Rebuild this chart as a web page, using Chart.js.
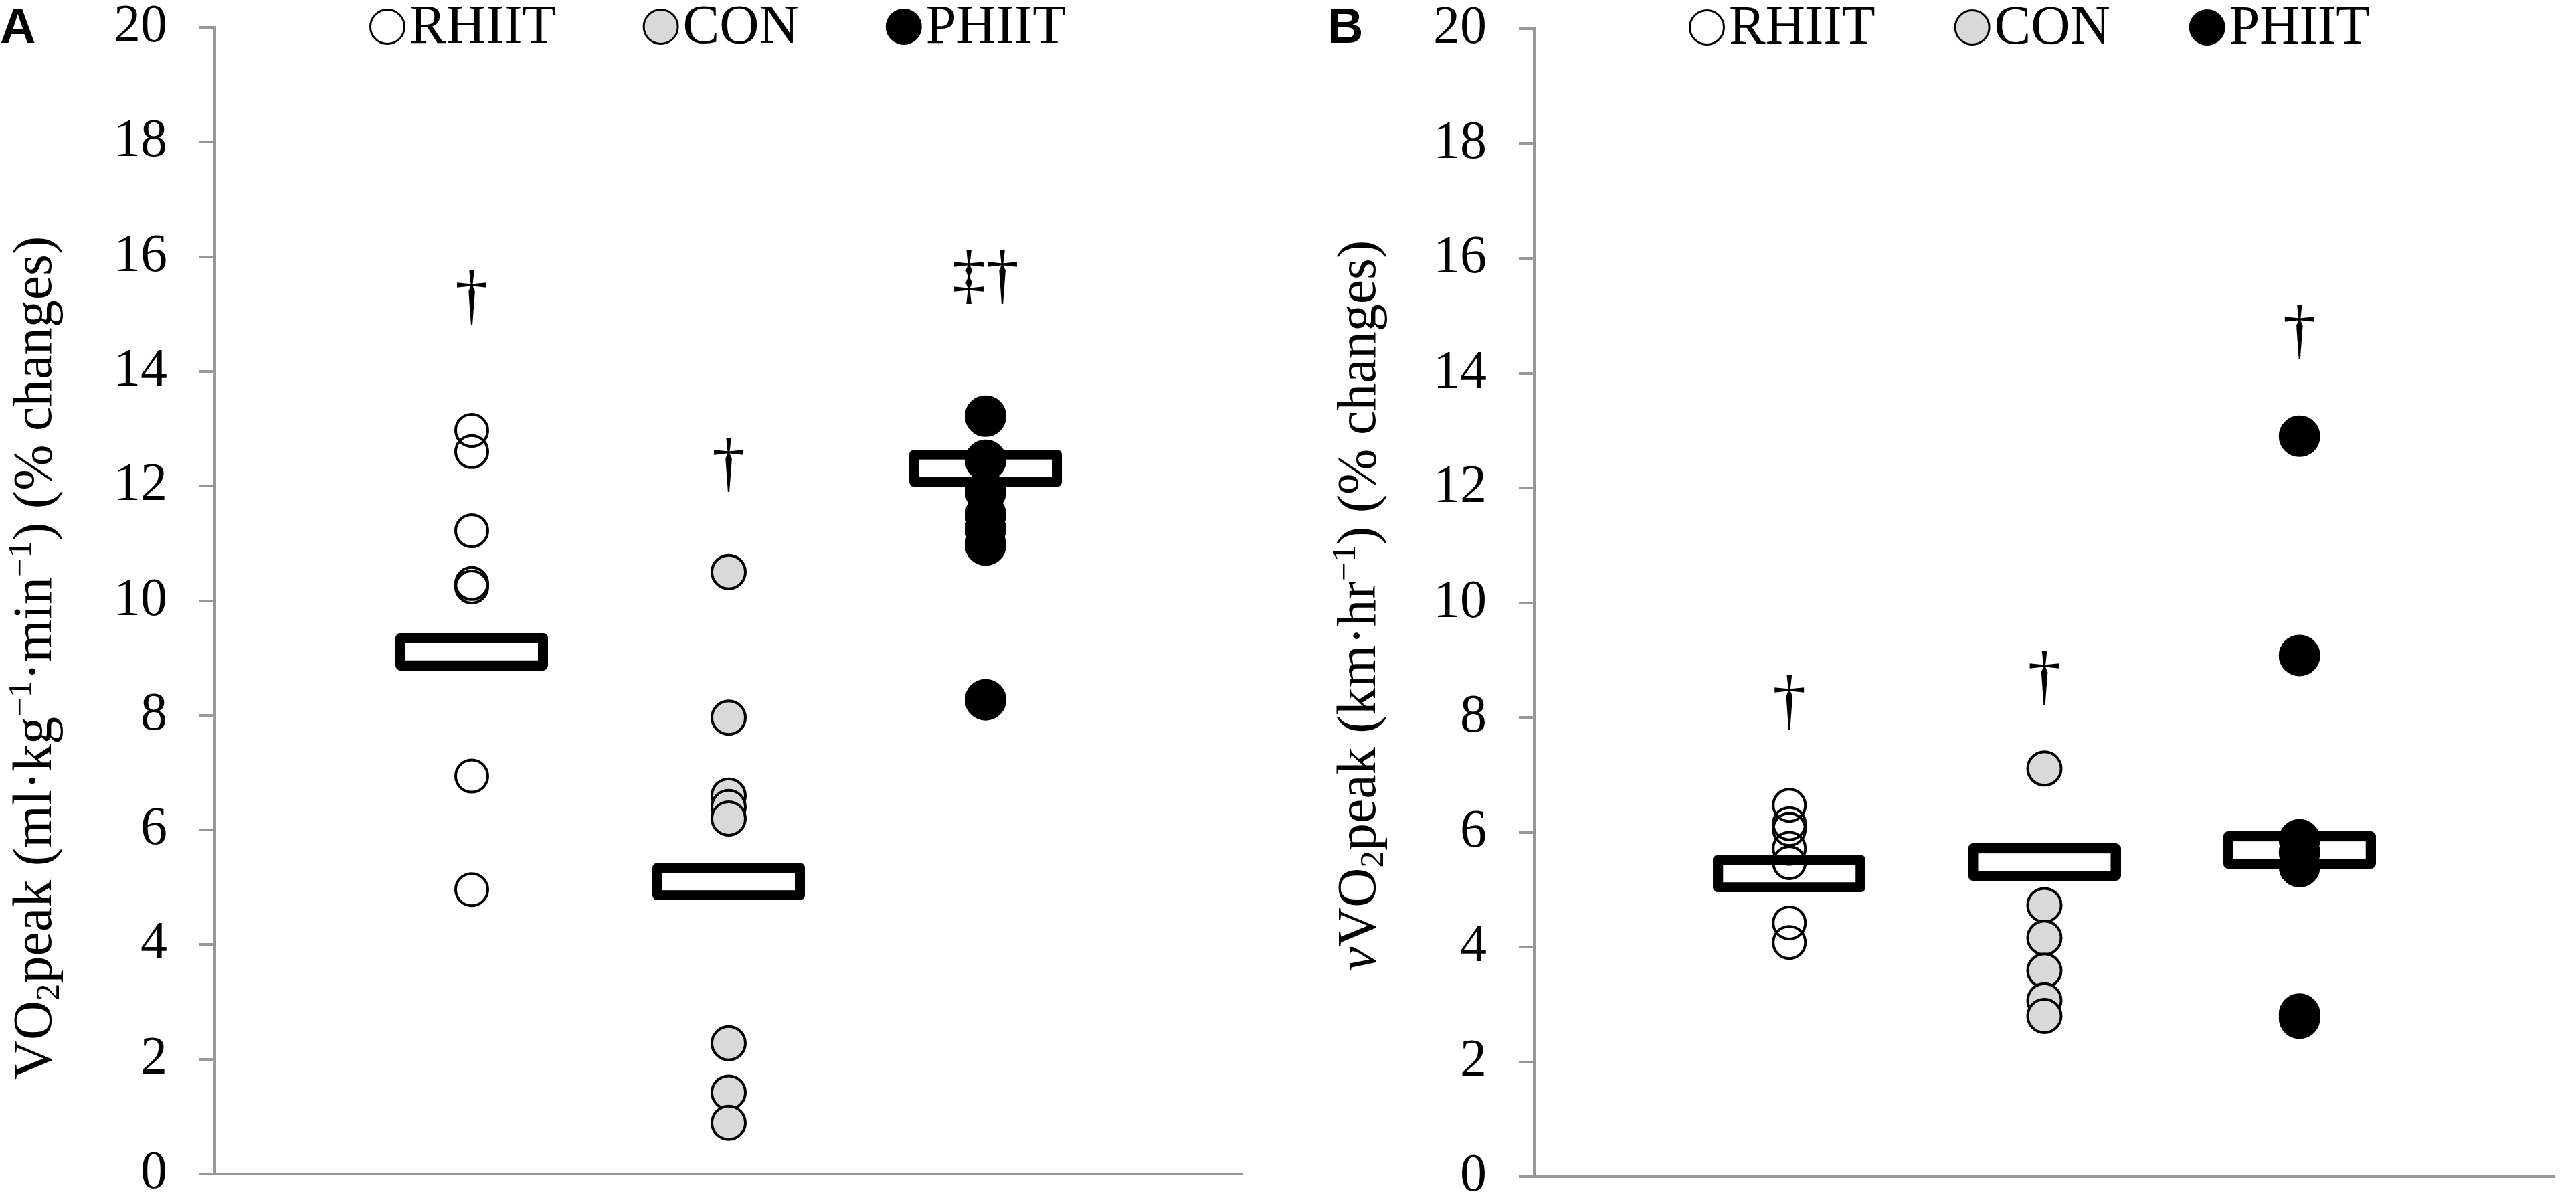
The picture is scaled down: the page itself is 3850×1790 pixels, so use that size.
<!DOCTYPE html>
<html>
<head>
<meta charset="utf-8">
<script src="https://cdn.jsdelivr.net/npm/chart.js@4.4.0/dist/chart.umd.min.js"></script>
<style>
  html, body { margin: 0; padding: 0; background: #fff; }
  body { width: 3850px; height: 1790px; position: relative; overflow: hidden; }
  .panel { position: absolute; top: 0; height: 1790px; }
  #panelA { left: 0; width: 1960px; }
  #panelB { left: 1960px; width: 1890px; }
  .tag { position: absolute; top: 2px; font: bold 74px "Liberation Sans", Arial, sans-serif; line-height: 74px; color: #000; }
</style>
</head>
<body>
<div id="panelA" class="panel"><canvas id="chartA"></canvas></div>
<div id="panelB" class="panel"><canvas id="chartB"></canvas></div>
<div class="tag" style="left:0px">A</div>
<div class="tag" style="left:1984px">B</div>
<script>
// groups on the x axis (linear 0..4, groups sit at 1, 2, 3)
const groups = ['RHIIT', 'CON', 'PHIIT'];
const groupX = [1, 2, 3];

// Panel A - VO2peak, individual % changes
const vo2Rhiit = [12.97, 12.6, 11.22, 10.3, 10.24, 6.94, 4.96];
const vo2Con = [10.5, 7.96, 6.6, 6.4, 6.2, 2.28, 1.42, 0.89];
const vo2Phiit = [13.22, 12.45, 11.9, 11.5, 11.25, 10.97, 8.27];
const vo2Means = [9.11, 5.1, 12.31];
const vo2Marks = ['\u2020', '\u2020', '\u2021\u2020'];
const vo2MarkY = [15.26, 12.34, 15.62];

// Panel B - vVO2peak, individual % changes
const vvoRhiit = [6.47, 6.15, 6.05, 5.72, 5.47, 4.42, 4.08];
const vvoCon = [7.11, 4.73, 4.16, 3.59, 3.07, 2.8];
const vvoPhiit = [12.9, 9.08, 5.87, 5.65, 5.4, 2.83, 2.76];
const vvoMeans = [5.28, 5.48, 5.69];
const vvoMarks = ['\u2020', '\u2020', '\u2020'];
const vvoMarkY = [8.24, 8.66, 14.7];

// y axis ticks
const yMin = 0;
const yMax = 20;
const yStep = 2;

const axisGray = '#989898';
const serif = '"Liberation Serif", "Times New Roman", serif';

const groupStyle = {
    RHIIT: { radius: 24, border: 4, fill: 'rgba(0,0,0,0)' },
    CON: { radius: 25, border: 4, fill: '#d9d9d9' },
    PHIIT: { radius: 30, border: 2, fill: '#000' }
};

// wide open rectangle used as the mean marker
function meanMarker() {
    const c = document.createElement('canvas');
    c.width = 228;
    c.height = 56;
    const g = c.getContext('2d');
    g.lineWidth = 15;
    g.lineJoin = 'round';
    g.fillStyle = '#fff';
    g.strokeStyle = '#000';
    g.fillRect(7.5, 7.5, 213, 41);
    g.strokeRect(7.5, 7.5, 213, 41);
    return c;
}

// legend row drawn over the top of the plot, like the original
const dotLegend = {
    id: 'dotLegend',
    afterDraw(chart, args, opts) {
        const ctx = chart.ctx;
        ctx.save();
        ctx.font = '82px ' + serif;
        ctx.textBaseline = 'middle';
        let x = chart.chartArea.left + opts.offset;
        chart.data.datasets.filter(ds => groups.includes(ds.label)).forEach(ds => {
            ctx.beginPath();
            ctx.arc(x + 27, opts.y, 25.5, 0, Math.PI * 2);
            ctx.fillStyle = ds.pointBackgroundColor;
            ctx.fill();
            ctx.lineWidth = 3;
            ctx.strokeStyle = '#000';
            ctx.stroke();
            x += 60;
            ctx.fillStyle = '#000';
            ctx.fillText(ds.label, x, opts.y + 2);
            x += ctx.measureText(ds.label).width + opts.gap;
        });
        ctx.restore();
    }
};

// rotated y title with sub/superscripts
const axisTitle = {
    id: 'axisTitle',
    afterDraw(chart, args, opts) {
        const ctx = chart.ctx;
        const size = opts.size;
        const fontFor = s => (s.italic ? 'italic ' : '') + ((s.sub || s.sup) ? size * 0.62 : size) + 'px ' + serif;
        ctx.save();
        let total = 0;
        opts.segments.forEach(s => { ctx.font = fontFor(s); total += ctx.measureText(s.t).width; });
        ctx.translate(chart.chartArea.left + opts.dx, opts.cy);
        ctx.rotate(-Math.PI / 2);
        ctx.fillStyle = '#000';
        ctx.textBaseline = 'alphabetic';
        let x = -total / 2;
        opts.segments.forEach(s => {
            ctx.font = fontFor(s);
            const dy = s.sub ? size * 0.15 : (s.sup ? -size * 0.36 : 0);
            ctx.fillText(s.t, x, dy);
            x += ctx.measureText(s.t).width;
        });
        ctx.restore();
    }
};

// significance daggers above each group
const groupMarks = {
    id: 'groupMarks',
    afterDatasetsDraw(chart, args, opts) {
        const ctx = chart.ctx;
        ctx.save();
        ctx.font = '100px ' + serif;
        ctx.textAlign = 'center';
        ctx.textBaseline = 'middle';
        ctx.fillStyle = '#000';
        opts.marks.forEach((m, i) => {
            const x = chart.scales.x.getPixelForValue(groupX[i]);
            const y = chart.scales.y.getPixelForValue(opts.markY[i]);
            ctx.fillText(m, x, y);
        });
        ctx.restore();
    }
};

function buildPanel(canvasId, series, means, marks, markY, cfg) {
    const datasets = groups.map((name, i) => ({
        label: name,
        data: series[i].map(v => ({ x: groupX[i], y: v })),
        pointStyle: 'circle',
        pointRadius: groupStyle[name].radius,
        pointBorderWidth: groupStyle[name].border,
        pointBackgroundColor: groupStyle[name].fill,
        pointBorderColor: '#000',
        order: 0
    }));
    datasets.push({
        label: 'mean',
        data: groupX.map((x, i) => ({ x: x, y: means[i] })),
        pointStyle: meanMarker(),
        pointRadius: 1,
        order: 1
    });

    return new Chart(document.getElementById(canvasId), {
        type: 'scatter',
        data: { datasets },
        plugins: [dotLegend, axisTitle, groupMarks],
        options: {
            responsive: true,
            maintainAspectRatio: false,
            animation: false,
            events: [],
            layout: { padding: { left: 0, top: cfg.top, right: cfg.right, bottom: cfg.bottom } },
            scales: {
                x: {
                    type: 'linear', min: 0, max: 4,
                    ticks: { display: false },
                    grid: { display: false, drawTicks: false },
                    border: { display: true, color: axisGray, width: 4 },
                    afterFit(s) { s.height = 0; s.paddingLeft = 0; s.paddingRight = 0; }
                },
                y: {
                    min: yMin, max: yMax,
                    ticks: { stepSize: yStep, color: '#000', padding: 48, font: { family: serif, size: 80, lineHeight: 0.9 } },
                    grid: { drawOnChartArea: false, drawTicks: true, tickLength: 23, lineWidth: 4, color: axisGray },
                    border: { display: true, color: axisGray, width: 4 },
                    afterFit(s) { s.width = cfg.left; s.paddingTop = 0; s.paddingBottom = 0; }
                }
            },
            plugins: {
                legend: { display: false },
                tooltip: { enabled: false },
                dotLegend: { offset: 231, gap: cfg.legendGap, y: cfg.legendY },
                axisTitle: { size: 82, dx: cfg.titleDx, cy: cfg.titleCy, segments: cfg.title },
                groupMarks: { marks: marks, markY: markY }
            }
        }
    });
}

document.addEventListener('DOMContentLoaded', () => {
    buildPanel('chartA', [vo2Rhiit, vo2Con, vo2Phiit], vo2Means, vo2Marks, vo2MarkY, {
        left: 321, top: 41, right: 103, bottom: 36,
        legendGap: 130, legendY: 40,
        titleDx: -245, titleCy: 983,
        title: [
            { t: 'VO' }, { t: '2', sub: true }, { t: 'peak (ml\u00b7kg' }, { t: '\u22121', sup: true },
            { t: '\u00b7min' }, { t: '\u22121', sup: true }, { t: ') (% changes)' }
        ]
    });

    buildPanel('chartB', [vvoRhiit, vvoCon, vvoPhiit], vvoMeans, vvoMarks, vvoMarkY, {
        left: 333, top: 43, right: 5, bottom: 32,
        legendGap: 118, legendY: 41,
        titleDx: -238, titleCy: 905,
        title: [
            { t: 'v', italic: true }, { t: 'VO' }, { t: '2', sub: true }, { t: 'peak (km\u00b7hr' },
            { t: '\u22121', sup: true }, { t: ') (% changes)' }
        ]
    });
});
</script>
</body>
</html>
